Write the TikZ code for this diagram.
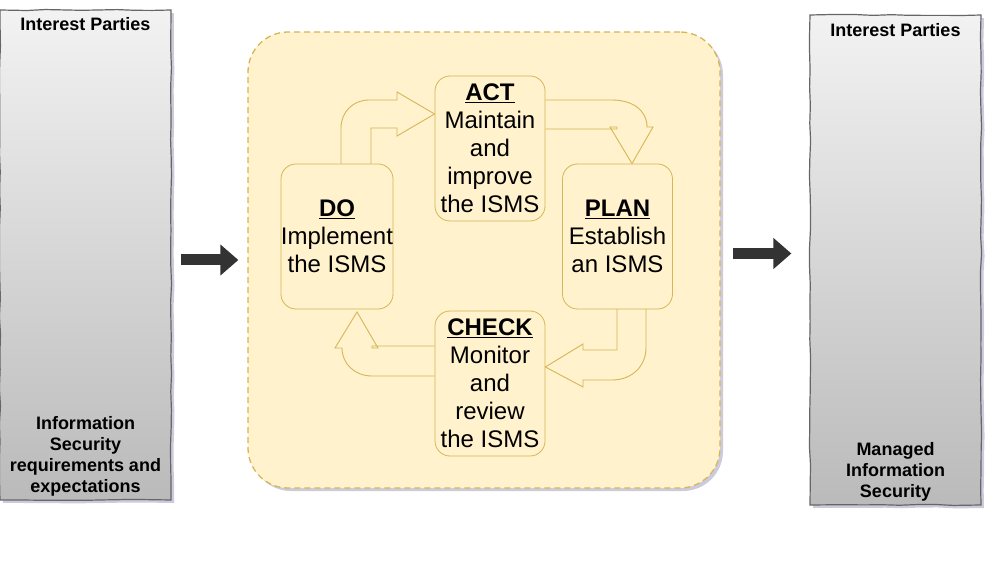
\documentclass[tikz,border=0pt]{standalone}
\usepackage{fontspec}
\setmainfont{Liberation Sans}
\usetikzlibrary{arrows.meta,calc,positioning,shadows,decorations.pathmorphing}
\definecolor{yfill}{HTML}{FFF2CC}
\definecolor{ydraw}{HTML}{D6B656}
\definecolor{gdraw}{HTML}{666666}
\definecolor{adark}{HTML}{333333}
\definecolor{shade}{HTML}{8C8CB4}
\tikzset{
    party/.style =  {rectangle,
                    top color=black!5,
                    bottom color=black!27,
                    draw=gdraw,
                    line width=1.2pt,
                    decorate,
                    decoration={random steps,segment length=18pt,amplitude=0.6pt},
                    drop shadow={shadow xshift=3pt,shadow yshift=-3pt,fill=shade,opacity=0.45},
                    minimum width=171pt,
                    minimum height=490pt},
    partytext/.style = {font=\fontsize{18}{21}\selectfont\bfseries,
                    text=black,
                    align=center},
    cycle/.style =  {rectangle,
                    rounded corners=40pt,
                    fill=yfill,
                    draw=ydraw,
                    line width=1.3pt,
                    dash pattern=on 6pt off 4pt,
                    drop shadow={shadow xshift=3pt,shadow yshift=-3pt,fill=shade,opacity=0.45},
                    minimum width=472pt,
                    minimum height=456pt},
    stage/.style =  {rectangle,
                    rounded corners=15pt,
                    fill=yfill,
                    draw=ydraw,
                    text=black,
                    line width=0.8pt,
                    align=center,
                    inner sep=0pt,
                    font=\fontsize{24}{28}\selectfont,
                    minimum width=110pt,
                    minimum height=145pt},
    flex/.style =   {draw=ydraw,
                    line width=0.9pt,
                    line join=miter},
    bigarrow/.style = {draw=adark,
                    line width=11pt,
                    -{Triangle[length=18pt,width=30pt]}},
    -}

\begin{document}
\begin{tikzpicture}[x=1pt,y=-1pt]
        \useasboundingbox (0,0) rectangle (994,561);
        \pgfmathsetseed{11}
        % outer boxes
        \node[party]    (reqs)    at (85.5,255)   {};
        \node[party]    (managed) at (895.5,260)  {};
        \node[partytext] (reqstitle) at ($(reqs.north)+(0,14.5)$)  {Interest Parties};
        \node[partytext] (reqsbody)  at ($(reqs.south)+(0,-44)$)   {Information\\Security\\requirements and\\expectations};
        \node[partytext] (mantitle)  at ($(managed.north)+(0,15.5)$) {Interest Parties};
        \node[partytext] (manbody)   at ($(managed.south)+(0,-33.5)$) {Managed\\Information\\Security};
        % ISMS cycle
        \node[cycle]    (isms)    at (484,260)    {};
        \node[stage]    (act)     at (490,148.5)  {\textbf{\underline{ACT}}\\Maintain\\and\\improve\\the ISMS};
        \node[stage]    (plan)    at (617.5,236.5) {\textbf{\underline{PLAN}}\\Establish\\an ISMS};
        \node[stage]    (check)   at (490,383.5)  {\textbf{\underline{CHECK}}\\Monitor\\and\\review\\the ISMS};
        \node[stage]    (do)      at (337,236.5)  {\textbf{\underline{DO}}\\Implement\\the ISMS};
        % bent arrows between stages
        \draw[flex] (341,164) -- (341,128) .. controls (341,112) and (353,100) .. (369,100)
                    -- (397,100) -- (397,92) -- (act.west |- 0,114) -- (397,136) -- (397,128)
                    -- (371,128) -- (371,164);
        \draw[flex] (act.east |- 0,100) -- (612,100) .. controls (632,100) and (647,110) .. (647,127)
                    -- (653,127) -- (plan.north -| 632,0) -- (610,127) -- (617,127) -- (617,129)
                    -- (act.east |- 0,129);
        \draw[flex] (646,309) -- (646,348) .. controls (646,366) and (632,380) .. (612,380)
                    -- (583,380) -- (583,387) -- (check.east |- 0,367) -- (583,344) -- (583,350)
                    -- (617,350) -- (617,309);
        \draw[flex] (check.west |- 0,376) -- (372,376) .. controls (355,376) and (342,364) .. (342,348)
                    -- (335,348) -- (357,312) -- (378,348) -- (372,348) -- (372,346)
                    -- (check.west |- 0,346);
        % flow arrows
        \draw[bigarrow] ($(reqs.east |- isms.west)+(9,0)$) -- ($(isms.west)+(-9,0)$);
        \draw[bigarrow] ($(isms.east)+(12,-6.5)$) -- ($(managed.west |- isms.east)+(-18,-6.5)$);
\end{tikzpicture}
\end{document}
